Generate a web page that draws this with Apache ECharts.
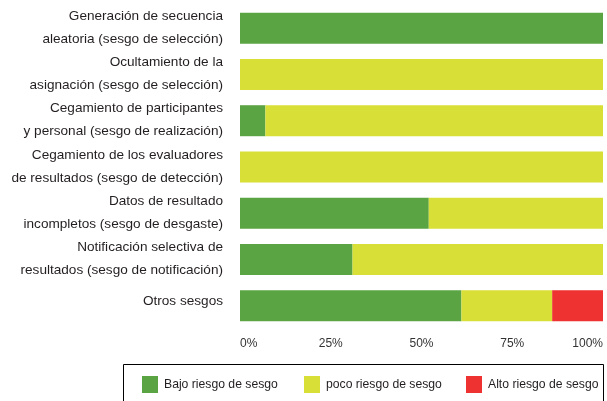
<!DOCTYPE html>
<html><head><meta charset="utf-8">
<script src="https://cdn.jsdelivr.net/npm/echarts@6/dist/echarts.min.js"></script>
<style>html,body{margin:0;padding:0;background:#fff}#c{width:607px;height:401px}</style>
</head><body><div id="c"></div>
<script>
const categories = [
  "Generación de secuencia\naleatoria (sesgo de selección)",
  "Ocultamiento de la\nasignación (sesgo de selección)",
  "Cegamiento de participantes\ny personal (sesgo de realización)",
  "Cegamiento de los evaluadores\nde resultados (sesgo de detección)",
  "Datos de resultado\nincompletos (sesgo de desgaste)",
  "Notificación selectiva de\nresultados (sesgo de notificación)",
  "Otros sesgos"
];
const seriesNames = ["Bajo riesgo de sesgo", "poco riesgo de sesgo", "Alto riesgo de sesgo"];
const bajo = [100, 0, 7, 0, 52, 31, 61];
const poco = [0, 100, 93, 100, 48, 69, 25];
const alto = [0, 0, 0, 0, 0, 0, 14];
const tickLabels = ["0%", "25%", "50%", "75%", "100%"];

const font = "Liberation Sans";
const chart = echarts.init(document.getElementById('c'));
const colors = ['#5ba444', '#d8df36', '#ee3131'];
const legendLefts = [142, 304, 466];
const mk = (name, data, i) => ({
  name, type: 'bar', stack: 'total', data, barWidth: 31,
  itemStyle: { color: colors[i] }, emphasis: { disabled: true }
});
chart.setOption({
  animation: false,
  textStyle: { fontFamily: font },
  grid: { left: 240, right: 4, top: 5, height: 324, containLabel: false },
  xAxis: {
    type: 'value', min: 0, max: 100, interval: 25,
    axisLine: { show: false }, axisTick: { show: false }, splitLine: { show: false },
    axisLabel: {
      formatter: v => tickLabels[v / 25], color: '#333', fontSize: 12, margin: 9,
      alignMinLabel: 'left', alignMaxLabel: 'right', fontFamily: font
    }
  },
  yAxis: {
    type: 'category', data: categories, inverse: true,
    axisLine: { show: false }, axisTick: { show: false }, splitLine: { show: false },
    axisLabel: {
      color: '#231f20', fontSize: 13.6, lineHeight: 23, margin: 17, fontFamily: font,
      formatter: v => v.indexOf('\n') < 0 ? '{s|' + v + '}' : '{d|' + v.split('\n').join('}\n{d|') + '}',
      rich: {
        s: { fontSize: 13.6, lineHeight: 23, color: '#231f20', fontFamily: font, padding: [0, 0, 10, 0] },
        d: { fontSize: 13.6, lineHeight: 23, color: '#231f20', fontFamily: font, padding: [0, 0, 1.5, 0] }
      }
    }
  },
  legend: seriesNames.map((n, i) => ({
    data: [n], left: legendLefts[i], top: 376, itemWidth: 16, itemHeight: 17,
    icon: 'rect', padding: 0, selectedMode: false,
    textStyle: { color: '#231f20', fontSize: 12.2, fontFamily: font, padding: [0, 0, 0, 1] }
  })),
  graphic: [{
    type: 'rect', shape: { x: 123.5, y: 364.5, width: 480, height: 45 },
    style: { fill: 'none', stroke: '#000', lineWidth: 1 }, silent: true
  }],
  series: [mk(seriesNames[0], bajo, 0), mk(seriesNames[1], poco, 1), mk(seriesNames[2], alto, 2)]
});
</script></body></html>
